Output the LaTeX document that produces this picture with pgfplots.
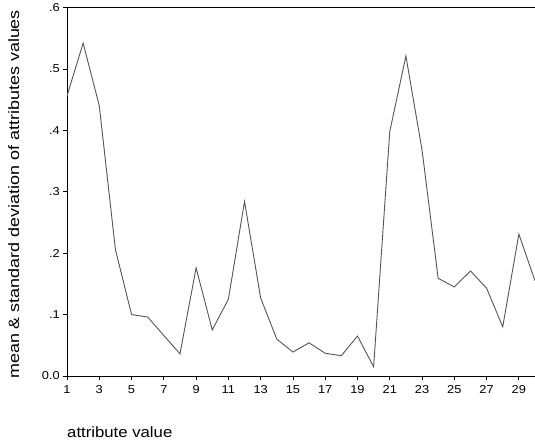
\documentclass[border=0pt]{standalone}
\usepackage{fontspec}
\setmainfont{Liberation Sans}[FakeStretch=1.12]
\newfontfamily\ylabfont{Liberation Sans}[FakeStretch=1.2]
\usepackage{pgfplots}
\pgfplotsset{compat=1.18}
\usetikzlibrary{calc}
\definecolor{linegray}{RGB}{85,85,85}

\begin{document}
\begin{tikzpicture}
\begin{axis}[
    scale only axis,
    width=468bp, height=368.5bp,
    xmin=1, xmax=30, ymin=0, ymax=0.6,
    axis lines*=left,
    axis line style={-, line width=0.8bp, black},
    tick align=outside,
    major tick length=4bp,
    tick style={black, line width=0.8bp},
    xtick={1,3,...,29},
    xticklabels={1,3,5,7,9,11,13,15,17,19,21,23,25,27,29},
    ytick={0,0.1,0.2,0.3,0.4,0.5,0.6},
    yticklabels={0.0,.1,.2,.3,.4,.5,.6},
    ticklabel style={font=\fontsize{11.5}{12}\selectfont},
    xticklabel style={inner sep=0pt, yshift=-5bp},
    yticklabel style={inner sep=0pt, xshift=-3bp},
]
\addplot[linegray, line width=0.9bp] coordinates {
(1,0.456) (2,0.542) (3,0.440) (4,0.206) (5,0.100)
(6,0.096) (7,0.066) (8,0.036) (9,0.176) (10,0.075)
(11,0.125) (12,0.284) (13,0.127) (14,0.060) (15,0.039)
(16,0.054) (17,0.037) (18,0.033) (19,0.065) (20,0.015)
(21,0.398) (22,0.521) (23,0.368) (24,0.159) (25,0.145)
(26,0.171) (27,0.143) (28,0.080) (29,0.231) (30,0.155)
};
\draw[line width=0.8bp, black] (rel axis cs:0,1) -- (rel axis cs:1,1);
\coordinate (sw) at (rel axis cs:0,0);
\coordinate (ne) at (rel axis cs:1,1);
\coordinate (w) at (rel axis cs:0,0.5);
\end{axis}
\node[rotate=90, anchor=north, inner sep=0pt, font=\ylabfont\fontsize{15}{16}\selectfont]
    at ($(w)+(-59bp,-2.7bp)$) {mean \& standard deviation of attributes values};
\node[anchor=north west, inner sep=0pt, font=\fontsize{15}{16}\selectfont]
    at ($(sw)+(0,-50.5bp)$) {attribute value};
\pgfresetboundingbox
\path[use as bounding box] ($(sw)+(-67bp,-72bp)$) rectangle ($(ne)+(0,7.5bp)$);
\end{tikzpicture}
\end{document}
